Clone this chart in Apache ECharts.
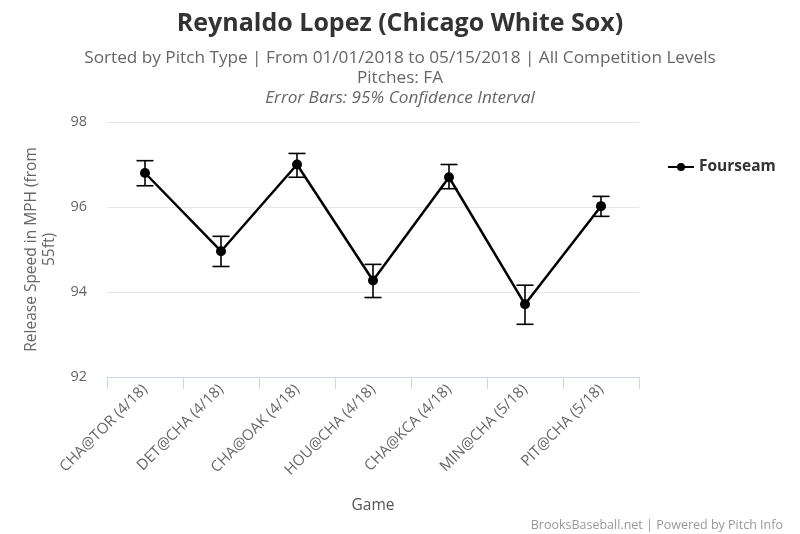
<!DOCTYPE html>
<html>
<head>
<meta charset="utf-8">
<script src="https://cdn.jsdelivr.net/npm/echarts@6/dist/echarts.min.js"></script>
<style>html,body{margin:0;padding:0;background:#fff}#c{width:800px;height:534px}</style>
</head>
<body>
<div id="c"></div>
<script>
var categories = ['CHA@TOR (4/18)', 'DET@CHA (4/18)', 'CHA@OAK (4/18)', 'HOU@CHA (4/18)', 'CHA@KCA (4/18)', 'MIN@CHA (5/18)', 'PIT@CHA (5/18)'];
var speeds = [96.80, 94.96, 97.00, 94.27, 96.70, 93.71, 96.02];
var errLow = [96.50, 94.60, 96.70, 93.87, 96.43, 93.24, 95.78];
var errHigh = [97.09, 95.31, 97.26, 94.65, 97.00, 94.16, 96.25];
var yTicks = [92, 94, 96, 98];

var FONT = '"Open Sans", "DejaVu Sans", sans-serif';
var chart = echarts.init(document.getElementById('c'));
var errData = categories.map(function (c, i) { return [i, errLow[i], errHigh[i]]; });

chart.setOption({
  animation: false,
  textStyle: { fontFamily: FONT },
  title: [
    { text: 'Reynaldo Lopez (Chicago White Sox)', left: 'center', top: 6,
      textStyle: { fontFamily: FONT, fontSize: 25, fontWeight: 'bold', color: '#333' } },
    { text: 'Sorted by Pitch Type | From 01/01/2018 to 05/15/2018 | All Competition Levels', left: 'center', top: 45,
      textStyle: { fontFamily: FONT, fontSize: 17.2, fontWeight: 'normal', color: '#666' } },
    { text: 'Pitches: FA', left: 'center', top: 65,
      textStyle: { fontFamily: FONT, fontSize: 17.2, fontWeight: 'normal', color: '#666' } },
    { text: 'Error Bars: 95% Confidence Interval', left: 'center', top: 85,
      textStyle: { fontFamily: FONT, fontSize: 17.2, fontWeight: 'normal', fontStyle: 'italic', color: '#666' } },
    { text: 'BrooksBaseball.net | Powered by Pitch Info', right: 12, top: 514,
      textStyle: { fontFamily: FONT, fontSize: 12.5, fontWeight: 'normal', color: '#999' } }
  ],
  legend: {
    orient: 'vertical', left: 662, top: 154,
    itemWidth: 26, itemHeight: 10, itemGap: 6,
    data: ['Fourseam'],
    textStyle: { fontFamily: FONT, fontSize: 15.5, fontWeight: 'bold', color: '#333' }
  },
  grid: { left: 107, right: 161, top: 122, bottom: 157, containLabel: false },
  xAxis: {
    type: 'category', data: categories, boundaryGap: true,
    name: 'Game', nameLocation: 'middle', nameGap: 121,
    nameTextStyle: { fontFamily: FONT, fontSize: 15.5, color: '#555' },
    axisLine: { lineStyle: { color: '#ccd6eb', width: 1 } },
    axisTick: { show: true, length: 12, alignWithLabel: false, lineStyle: { color: '#ccd6eb' } },
    axisLabel: { rotate: 45, margin: 10, fontSize: 15, color: '#666', fontFamily: FONT, interval: 0 },
    splitLine: { show: false }
  },
  yAxis: {
    type: 'value', min: 92, max: 98, interval: 2,
    name: 'Release Speed in MPH (from\n55ft)', nameLocation: 'middle', nameGap: 48, nameRotate: 90,
    nameTextStyle: { fontFamily: FONT, fontSize: 15.5, color: '#666', lineHeight: 18, align: 'center' },
    axisLine: { show: false }, axisTick: { show: false },
    axisLabel: { fontSize: 14.5, color: '#666', margin: 20, fontFamily: FONT,
      formatter: function (v) { return yTicks.indexOf(v) >= 0 ? String(v) : ''; } },
    splitLine: { lineStyle: { color: '#e6e6e6', width: 1 } }
  },
  series: [
    {
      name: 'Fourseam', type: 'line', data: speeds,
      symbol: 'circle', symbolSize: 10,
      lineStyle: { color: '#000', width: 2.5 },
      itemStyle: { color: '#000' },
      z: 3
    },
    {
      name: 'err', type: 'custom', data: errData, z: 4,
      renderItem: function (params, api) {
        var x = api.value(0);
        var lo = api.coord([x, api.value(1)]);
        var hi = api.coord([x, api.value(2)]);
        var hw = 8.5;
        var st = { stroke: '#000', lineWidth: 1.6, fill: null };
        return { type: 'group', children: [
          { type: 'line', shape: { x1: lo[0], y1: lo[1], x2: hi[0], y2: hi[1] }, style: st },
          { type: 'line', shape: { x1: lo[0] - hw, y1: lo[1], x2: lo[0] + hw, y2: lo[1] }, style: st },
          { type: 'line', shape: { x1: hi[0] - hw, y1: hi[1], x2: hi[0] + hw, y2: hi[1] }, style: st }
        ] };
      }
    }
  ]
});
</script>
</body>
</html>
